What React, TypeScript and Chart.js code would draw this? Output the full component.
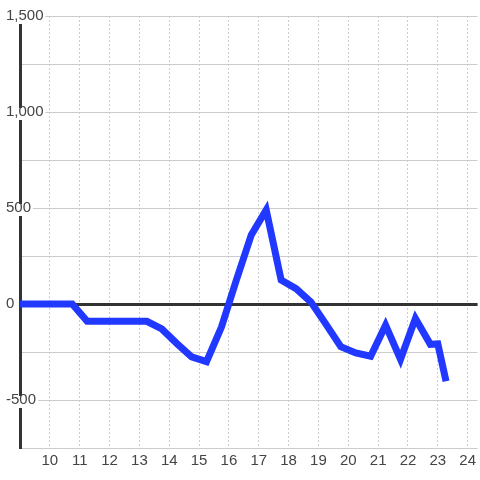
import React, { useEffect, useRef } from 'react';
import { Chart, registerables } from 'chart.js';

Chart.register(...registerables);

const X_VALUES = [9, 10.75, 11.25, 13.25, 13.75, 14.25, 14.75, 15.25, 15.75, 16.25, 16.75, 17.25, 17.75, 18.25, 18.75, 19.25, 19.75, 20.25, 20.75, 21.25, 21.75, 22.25, 22.75, 23, 23.25];
const Y_VALUES = [0, 0, -90, -90, -130, -205, -275, -300, -120, 125, 360, 490, 125, 80, 10, -105, -222, -255, -272, -110, -288, -75, -210, -208, -385];
const X_TICK_LABELS = [10, 11, 12, 13, 14, 15, 16, 17, 18, 19, 20, 21, 22, 23, 24];
const Y_TICK_LABELS = [-500, 0, 500, 1000, 1500];

const FONT = { family: '"Liberation Sans", Arial, sans-serif', size: 15 };

export default function App() {
  const ref = useRef<HTMLCanvasElement | null>(null);

  useEffect(() => {
    if (!ref.current) return;
    const chart = new Chart(ref.current, {
      type: 'line',
      data: {
        datasets: [
          {
            data: X_VALUES.map((x, i) => ({ x, y: Y_VALUES[i] })),
            borderColor: 'rgb(32,56,255)',
            borderWidth: 7,
            pointRadius: 0,
            borderJoinStyle: 'miter',
            borderCapStyle: 'square',
            fill: false,
            tension: 0,
          },
        ],
      },
      options: {
        animation: false,
        responsive: false,
        devicePixelRatio: 1,
        layout: { padding: { left: 6, top: 16, right: 0, bottom: 0 } },
        plugins: { legend: { display: false }, tooltip: { enabled: false } },
        scales: {
          x: {
            type: 'linear',
            min: 9,
            max: 24.333,
            afterFit: (s: any) => { s.height = 32; },
            ticks: {
              stepSize: 1,
              includeBounds: false,
              autoSkip: false,
              maxRotation: 0,
              padding: 4,
              color: '#444',
              font: FONT,
              callback: (v: any) => (X_TICK_LABELS.includes(Number(v)) ? String(v) : ''),
            },
            grid: {
              drawTicks: false,
              lineWidth: 1,
              color: (ctx: any) => (ctx.tick && ctx.tick.value === 9 ? 'rgba(0,0,0,0)' : '#cccccc'),
            },
            border: { display: false, dash: [2, 2] },
          },
          y: {
            type: 'linear',
            min: -750,
            max: 1500,
            afterFit: (s: any) => { s.width = 14; },
            ticks: {
              stepSize: 250,
              mirror: true,
              padding: -14,
              crossAlign: 'near',
              color: '#444',
              font: FONT,
              showLabelBackdrop: true,
              backdropColor: (ctx: any) => (ctx.tick && Y_TICK_LABELS.includes(ctx.tick.value) ? '#ffffff' : 'rgba(0,0,0,0)'),
              backdropPadding: { top: -5, bottom: -1, left: 0, right: 2 },
              callback: (v: any) => (Y_TICK_LABELS.includes(Number(v)) ? Number(v).toLocaleString('en-US') : ''),
            },
            grid: {
              drawTicks: false,
              color: (ctx: any) => (ctx.tick && ctx.tick.value === 0 ? '#333333' : '#cccccc'),
              lineWidth: (ctx: any) => (ctx.tick && ctx.tick.value === 0 ? 3 : 1),
            },
            border: { display: true, color: '#333333', width: 3 },
          },
        },
      },
    } as any);
    return () => chart.destroy();
  }, []);

  return (
    <div style={{ position: 'absolute', left: 0, top: 0, width: 480, height: 480, background: '#fff' }}>
      <canvas ref={ref} width={480} height={480} style={{ display: 'block' }} />
    </div>
  );
}
